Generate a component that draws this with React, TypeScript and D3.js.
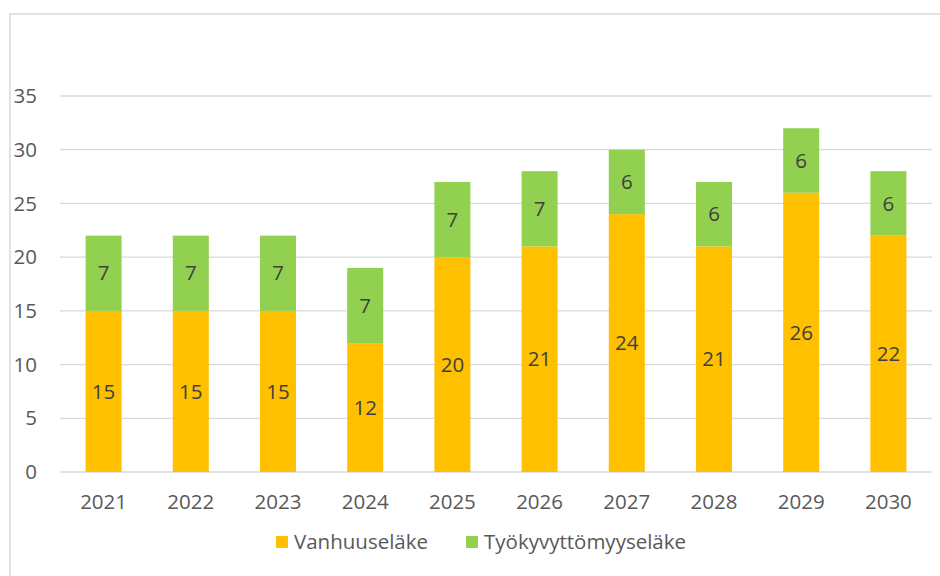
import React, { useEffect, useRef } from 'react';
import * as d3 from 'd3';

const years = ['2021', '2022', '2023', '2024', '2025', '2026', '2027', '2028', '2029', '2030'];
const vanhuus = [15, 15, 15, 12, 20, 21, 24, 21, 26, 22];
const tyokyvyttomyys = [7, 7, 7, 7, 7, 7, 6, 6, 6, 6];
const seriesNames = ['Vanhuuseläke', 'Työkyvyttömyyseläke'];
const yTicks = [0, 5, 10, 15, 20, 25, 30, 35];

const colors = ['#FFC000', '#92D050'];
const font = '"Open Sans", "Noto Sans", sans-serif';
const fontSize = 20.5;

const App = () => {
  const ref = useRef<SVGSVGElement>(null);

  useEffect(() => {
    const width = 940;
    const height = 576;
    const svg = d3.select(ref.current);
    svg.selectAll('*').remove();

    // chart frame
    svg.append('path')
      .attr('d', `M10,${height + 2} L10,14 L${width + 2},14`)
      .attr('fill', 'none')
      .attr('stroke', '#D9D9D9')
      .attr('stroke-width', 1.5);

    const x = d3.scaleBand()
      .domain(years)
      .range([60, 932])
      .paddingInner(0.587)
      .paddingOuter(0.2935);

    const y = d3.scaleLinear()
      .domain([0, 35])
      .range([472, 96]);

    // gridlines
    svg.append('g')
      .selectAll('line')
      .data(yTicks)
      .enter()
      .append('line')
      .attr('x1', 60)
      .attr('x2', 932)
      .attr('y1', d => y(d))
      .attr('y2', d => y(d))
      .attr('stroke', '#D9D9D9')
      .attr('stroke-width', 1.3);

    svg.append('g')
      .selectAll('text')
      .data(yTicks)
      .enter()
      .append('text')
      .attr('x', 37)
      .attr('y', d => y(d))
      .attr('dy', '0.35em')
      .attr('text-anchor', 'end')
      .attr('font-family', font)
      .attr('font-size', fontSize)
      .attr('fill', '#595959')
      .text(d => d);

    const table = years.map((yr, i) => ({ year: yr, v: vanhuus[i], t: tyokyvyttomyys[i] }));
    const stacked = d3.stack<any>().keys(['v', 't'])(table);

    stacked.forEach((layer, si) => {
      const g = svg.append('g');
      g.selectAll('rect')
        .data(layer)
        .enter()
        .append('rect')
        .attr('x', d => x(d.data.year)!)
        .attr('width', x.bandwidth())
        .attr('y', d => y(d[1]))
        .attr('height', d => y(d[0]) - y(d[1]))
        .attr('fill', colors[si]);

      g.selectAll('text')
        .data(layer)
        .enter()
        .append('text')
        .attr('x', d => x(d.data.year)! + x.bandwidth() / 2)
        .attr('y', d => (y(d[0]) + y(d[1])) / 2)
        .attr('dy', '0.35em')
        .attr('text-anchor', 'middle')
        .attr('font-family', font)
        .attr('font-size', fontSize)
        .attr('fill', '#404040')
        .text(d => d[1] - d[0]);
    });

    // x axis labels
    svg.append('g')
      .selectAll('text')
      .data(years)
      .enter()
      .append('text')
      .attr('x', d => x(d)! + x.bandwidth() / 2)
      .attr('y', 502)
      .attr('dy', '0.35em')
      .attr('text-anchor', 'middle')
      .attr('font-family', font)
      .attr('font-size', fontSize)
      .attr('fill', '#595959')
      .text(d => d);

    // legend
    const legendX = [276, 466];
    const legend = svg.append('g');
    seriesNames.forEach((name, i) => {
      legend.append('rect')
        .attr('x', legendX[i])
        .attr('y', 536)
        .attr('width', 12)
        .attr('height', 12)
        .attr('fill', colors[i]);
      legend.append('text')
        .attr('x', legendX[i] + 18)
        .attr('y', 542)
        .attr('dy', '0.35em')
        .attr('font-family', font)
        .attr('font-size', fontSize)
        .attr('fill', '#595959')
        .text(name);
    });
  }, []);

  return (
    <svg
      ref={ref}
      width={940}
      height={576}
      style={{ position: 'absolute', left: 0, top: 0, background: '#fff' }}
    />
  );
};

export default App;
